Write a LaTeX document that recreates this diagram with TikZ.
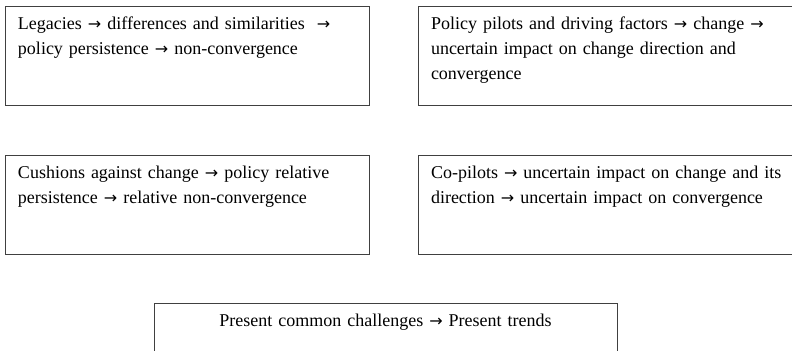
\documentclass[tikz,border=0pt]{standalone}
\usepackage{fontspec}
\setmainfont{Liberation Serif}
\newfontfamily\arrowfont{DejaVu Sans}
\newcommand{\toarrow}{{\arrowfont\fontsize{8}{12.5}\selectfont →}}
\usepackage{tikz}
\usetikzlibrary{positioning}

\begin{document}
\begin{tikzpicture}[node distance=24.5pt,font=\fontsize{9}{12.5}\selectfont,text box/.style={draw=black!75,line width=0.5pt,anchor=north west,outer sep=0pt,inner xsep=6.5pt,inner ysep=0pt,align=left,text height=11.5pt,text depth=38pt}]
    \useasboundingbox (0,0) rectangle (396pt,-175pt);
    \clip (0,0) rectangle (396pt,-175pt);
    \node[text box,text width=169pt] (1) at (2.5pt,-3pt) {Legacies \toarrow{} differences and similarities ~\toarrow\\policy persistence \toarrow{} non-convergence};
    \node[text box,text width=190pt] (2) [right=of 1] {Policy pilots and driving factors \toarrow{} change \toarrow\\uncertain impact on change direction and\\convergence};
    \node[text box,text width=169pt] (3) [below=25pt of 1] {Cushions against change \toarrow{} policy relative\\persistence \toarrow{} relative non-convergence};
    \node[text box,text width=190pt] (4) [right=of 3] {Co-pilots \toarrow{} uncertain impact on change and its\\direction \toarrow{} uncertain impact on convergence};
    \node[text box,text width=218.5pt,align=center,anchor=north] (5) at (192.75pt,-151.5pt) {Present common challenges \toarrow{} Present trends};
  \end{tikzpicture}
\end{document}
